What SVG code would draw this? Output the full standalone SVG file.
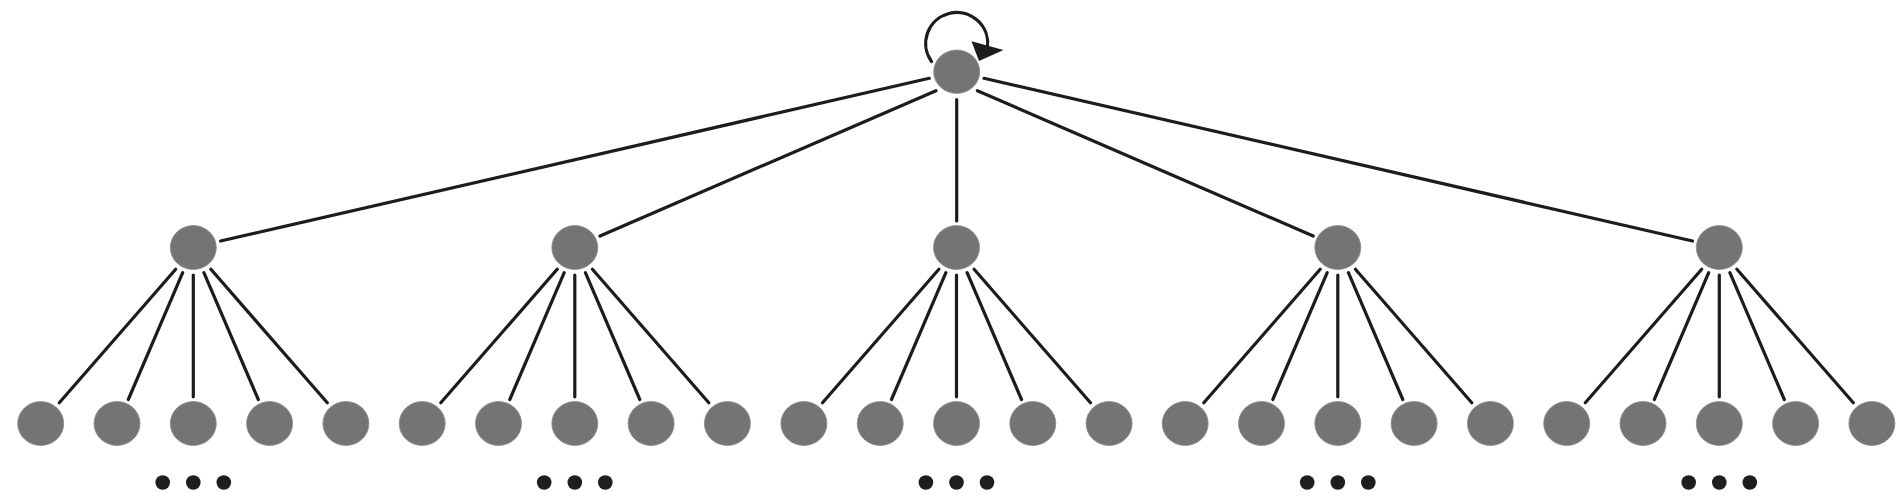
<svg xmlns="http://www.w3.org/2000/svg" width="1904" height="504" viewBox="0 0 1904 504">
<style>
.n{fill:#747474;stroke:#8a8a8a;stroke-width:0.8}
.e{stroke:#1c1c1c;stroke-width:3.2;stroke-linecap:round;fill:none}
.d{fill:#1e1e1e}
</style>
<defs>
<g id="sub">
<line class="e" x1="-17.6" y1="21.8" x2="-134" y2="155.3"/>
<line class="e" x1="-10.6" y1="25.2" x2="-65" y2="152"/>
<line class="e" x1="0" y1="27.5" x2="0" y2="149.3"/>
<line class="e" x1="10.6" y1="25.2" x2="65" y2="152"/>
<line class="e" x1="17.6" y1="21.8" x2="134" y2="155.3"/>
</g>
<g id="leaves">
<ellipse class="n" cx="-152.6" cy="176" rx="23" ry="22"/>
<ellipse class="n" cx="-76.3" cy="176" rx="23" ry="22"/>
<ellipse class="n" cx="0" cy="176" rx="23" ry="22"/>
<ellipse class="n" cx="76.3" cy="176" rx="23" ry="22"/>
<ellipse class="n" cx="152.6" cy="176" rx="23" ry="22"/>
<circle class="d" cx="-30.6" cy="235" r="7.3"/>
<circle class="d" cx="0" cy="235" r="7.3"/>
<circle class="d" cx="30.5" cy="235" r="7.3"/>
</g>
</defs>
<g id="connectors">
<line class="e" x1="929.3" y1="78.3" x2="220.6" y2="241"/>
<line class="e" x1="936" y1="90.7" x2="600" y2="236"/>
<line class="e" x1="956.7" y1="99.5" x2="956.7" y2="221"/>
<line class="e" x1="977.4" y1="90.7" x2="1313.2" y2="236"/>
<line class="e" x1="984" y1="78.3" x2="1692.5" y2="241"/>
<use href="#sub" x="193.3" y="247.5"/>
<use href="#sub" x="574.8" y="247.5"/>
<use href="#sub" x="956.5" y="247.5"/>
<use href="#sub" x="1337.8" y="247.5"/>
<use href="#sub" x="1719.3" y="247.5"/>
<path class="e" d="M 931.5 61.5 A 31 31 0 1 1 987.5 47"/>
<polygon fill="#1c1c1c" points="971.5,41.3 1003.5,50 979,61"/>
</g>
<g id="root"><ellipse class="n" cx="956.7" cy="71.7" rx="23" ry="21.7"/></g>
<g id="n1"><ellipse class="n" cx="193.3" cy="247.5" rx="23" ry="22"/><use href="#leaves" x="193.3" y="247.5"/></g>
<g id="n2"><ellipse class="n" cx="574.8" cy="247.5" rx="23" ry="22"/><use href="#leaves" x="574.8" y="247.5"/></g>
<g id="n3"><ellipse class="n" cx="956.5" cy="247.5" rx="23" ry="22"/><use href="#leaves" x="956.5" y="247.5"/></g>
<g id="n4"><ellipse class="n" cx="1337.8" cy="247.5" rx="23" ry="22"/><use href="#leaves" x="1337.8" y="247.5"/></g>
<g id="n5"><ellipse class="n" cx="1719.3" cy="247.5" rx="23" ry="22"/><use href="#leaves" x="1719.3" y="247.5"/></g>
</svg>
